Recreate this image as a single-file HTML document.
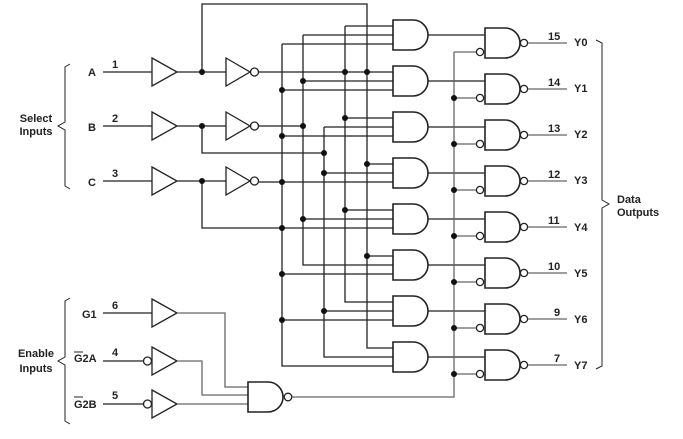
<!DOCTYPE html>
<html><head><meta charset="utf-8"><style>
html,body{margin:0;padding:0;background:#fff}
svg{display:block}
text{font-family:"Liberation Sans",Arial,sans-serif;font-size:11px;fill:#222;font-weight:bold}
</style></head><body>
<svg width="683" height="439" viewBox="0 0 683 439" xmlns="http://www.w3.org/2000/svg">
<g fill="none" stroke="#222" stroke-width="1.3">
<path d="M70,64 L65,67 V122 L58,126 L65,130 V186 L70,189" stroke-width="1"/>
<path d="M70,298 L65,301 V357 L58,361 L65,365 V421 L70,424" stroke-width="1"/>
<path d="M596,40 L602,43 V200 L609,204 L602,208 V366 L596,369" stroke-width="1"/>
<path d="M103,72H152M103,126H152M103,181H152M103,313H152M103,361H143M103,404H143"/>
<path d="M152,58L177,72L152,86Z M152,112L177,126L152,140Z M152,167L177,181L152,195Z"/>
<path d="M152,299L177,313L152,327Z M152,347L177,361L152,375Z M152,390L177,404L152,418Z"/>
<circle cx="147.5" cy="361" r="4"/><circle cx="147.5" cy="404" r="4"/>
<path d="M177,72H226M177,126H226M177,181H226"/>
<path d="M226,58L250,72L226,86Z M226,112L250,126L226,140Z M226,167L250,181L226,195Z"/>
<circle cx="254.5" cy="72" r="4"/><circle cx="254.5" cy="126" r="4"/><circle cx="254.5" cy="181" r="4"/>
<path d="M202,72V4H367V348H393"/>
<path d="M202,126V153H324"/>
<path d="M202,181V228H393"/>
<path d="M282,44V366H393M303,35V265H393M324,127V357H393M345,26V302H393"/>
<path d="M345,26H393M303,35H393M282,44H393"/>
<path d="M259,72H393M303,81H393M282,90H393"/>
<path d="M259,126H303M345,118H393M324,127H393M282,136H393"/>
<path d="M367,164H393M324,173H393M259,182H393"/>
<path d="M345,210H393M303,219H393"/>
<path d="M367,256H393M282,274H393"/>
<path d="M324,311H393M282,320H393"/>
<path d="M393,20H413A15,15 0 0 1 413,50H393Z M393,66H413A15,15 0 0 1 413,96H393Z M393,112H413A15,15 0 0 1 413,142H393Z M393,158H413A15,15 0 0 1 413,188H393Z M393,204H413A15,15 0 0 1 413,234H393Z M393,250H413A15,15 0 0 1 413,280H393Z M393,296H413A15,15 0 0 1 413,326H393Z M393,342H413A15,15 0 0 1 413,372H393Z" stroke-width="1.6"/>
<path d="M428,35H485M428,81H485M428,127H485M428,173H485M428,219H485M428,265H485M428,311H485M428,357H485"/>
<path d="M485,28H505A15,15 0 0 1 505,58H485Z M485,74H505A15,15 0 0 1 505,104H485Z M485,120H505A15,15 0 0 1 505,150H485Z M485,166H505A15,15 0 0 1 505,196H485Z M485,212H505A15,15 0 0 1 505,242H485Z M485,258H505A15,15 0 0 1 505,288H485Z M485,304H505A15,15 0 0 1 505,334H485Z M485,350H505A15,15 0 0 1 505,380H485Z" stroke-width="1.6"/>
<g>
<circle cx="524" cy="43" r="3.6"/><circle cx="524" cy="89" r="3.6"/><circle cx="524" cy="135" r="3.6"/><circle cx="524" cy="181" r="3.6"/><circle cx="524" cy="227" r="3.6"/><circle cx="524" cy="273" r="3.6"/><circle cx="524" cy="319" r="3.6"/><circle cx="524" cy="365" r="3.6"/>
<circle cx="480" cy="52" r="3.6"/><circle cx="480" cy="98" r="3.6"/><circle cx="480" cy="144" r="3.6"/><circle cx="480" cy="190" r="3.6"/><circle cx="480" cy="236" r="3.6"/><circle cx="480" cy="282" r="3.6"/><circle cx="480" cy="328" r="3.6"/><circle cx="480" cy="374" r="3.6"/>
</g>
<g stroke="#666">
<path d="M528,43H567M528,89H567M528,135H567M528,181H567M528,227H567M528,273H567M528,319H567M528,365H567"/>
<path d="M454,52H476M454,98H476M454,144H476M454,190H476M454,236H476M454,282H476M454,328H476M454,374H476"/>
<path d="M454,52V397H292"/>
<path d="M177,313H225V387H248M177,361H202V395H248M177,404H248"/>
</g>
<path d="M248,382H268A15,15 0 0 1 268,412H248Z" stroke-width="1.6"/>
<circle cx="288" cy="397" r="3.8"/>
</g>
<g fill="#111">
<circle cx="202" cy="72" r="3"/><circle cx="202" cy="126" r="3"/><circle cx="202" cy="181" r="3"/>
<circle cx="345" cy="72" r="3"/><circle cx="367" cy="72" r="3"/><circle cx="303" cy="81" r="3"/><circle cx="282" cy="90" r="3"/>
<circle cx="303" cy="126" r="3"/><circle cx="345" cy="118" r="3"/><circle cx="282" cy="136" r="3"/>
<circle cx="324" cy="153" r="3"/><circle cx="367" cy="164" r="3"/><circle cx="324" cy="173" r="3"/><circle cx="282" cy="182" r="3"/>
<circle cx="345" cy="210" r="3"/><circle cx="303" cy="219" r="3"/><circle cx="282" cy="228" r="3"/>
<circle cx="367" cy="256" r="3"/><circle cx="282" cy="274" r="3"/>
<circle cx="324" cy="311" r="3"/><circle cx="282" cy="320" r="3"/>
<circle cx="454" cy="98" r="3"/><circle cx="454" cy="144" r="3"/><circle cx="454" cy="190" r="3"/><circle cx="454" cy="236" r="3"/><circle cx="454" cy="282" r="3"/><circle cx="454" cy="328" r="3"/><circle cx="454" cy="374" r="3"/>
</g>
<text x="36" y="122" text-anchor="middle">Select</text>
<text x="36" y="135" text-anchor="middle">Inputs</text>
<text x="36" y="357" text-anchor="middle">Enable</text>
<text x="36" y="372" text-anchor="middle">Inputs</text>
<text x="617" y="203">Data</text>
<text x="617" y="216">Outputs</text>
<text x="88" y="76">A</text><text x="88" y="131">B</text><text x="88" y="186">C</text>
<text x="82" y="318">G1</text>
<text x="74" y="362">G2A</text><text x="74" y="408">G2B</text>
<path d="M74,352H83M74,397H83" stroke="#222" stroke-width="1"/>
<text x="112" y="68">1</text><text x="112" y="122">2</text><text x="112" y="177">3</text>
<text x="112" y="309">6</text><text x="112" y="356">4</text><text x="112" y="399">5</text>
<text x="548" y="40">15</text><text x="548" y="86">14</text><text x="548" y="132">13</text><text x="548" y="178">12</text>
<text x="548" y="224">11</text><text x="548" y="270">10</text><text x="554" y="316">9</text><text x="554" y="362">7</text>
<text x="574" y="46">Y0</text><text x="574" y="92">Y1</text><text x="574" y="138">Y2</text><text x="574" y="184">Y3</text>
<text x="574" y="231">Y4</text><text x="574" y="277">Y5</text><text x="574" y="323">Y6</text><text x="574" y="369">Y7</text>
</svg>
</body></html>
